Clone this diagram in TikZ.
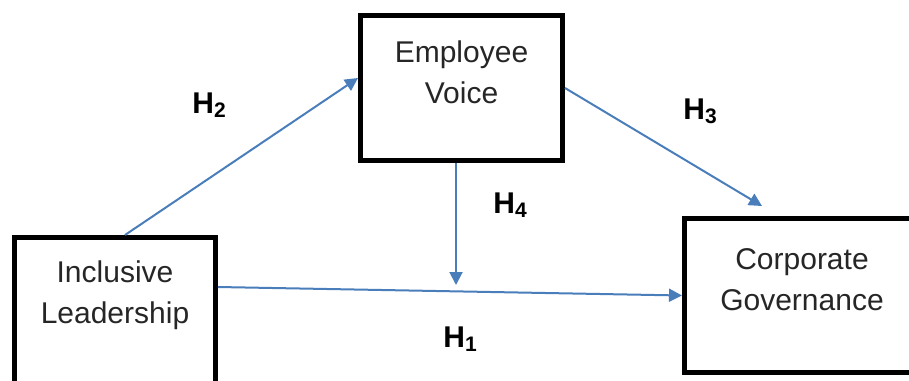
\documentclass[tikz,border=0pt]{standalone}
\usepackage{fontspec}
\setmainfont{Liberation Sans}
\usetikzlibrary{arrows.meta,positioning}
\definecolor{linkblue}{HTML}{4A7EBB}

\begin{document}
\begin{tikzpicture}[x=0.5pt,y=-0.5pt,
    box/.style={draw,line width=2.5pt,inner sep=0pt},
    boxtext/.style={align=center,font=\fontsize{15}{20.5}\selectfont,text=black!85},
    link/.style={draw=linkblue,line width=1pt,-{Triangle[length=6.5pt,width=6.5pt]},linkblue},
    hyp/.style={font=\fontsize{15}{18}\bfseries,anchor=base west,inner sep=0pt}]
  \useasboundingbox (0,0) rectangle (909,380);
  \clip (0,0) rectangle (909,380);
  \node[box,minimum width=100.5pt,minimum height=76pt] (il) at (115,313.5) {};
  \node[box,minimum width=101pt,minimum height=72.5pt] (ev) at (461.5,88) {};
  \node[box,minimum width=117.5pt,minimum height=77pt] (cg) at (802,295.5) {};
  \node[boxtext] (ilt) at ([yshift=9pt]il.center) {Inclusive\\Leadership};
  \node[boxtext] (evt) at ([yshift=8pt]ev.center) {Employee\\Voice};
  \node[boxtext] (cgt) at ([yshift=8pt]cg.center) {Corporate\\Governance};
  \coordinate (h4end) at (456,285);
  \draw[link] ([xshift=5pt]il.north) -- ([yshift=5pt]ev.west);
  \draw[link] (ev.east) -- ([xshift=-20pt,yshift=5pt]cg.north);
  \draw[link] ([xshift=-2.75pt]ev.south) -- (h4end);
  \draw[link] ([yshift=13.25pt]il.east) -- (cg.west);
  \node[hyp] (h2) at (192,113) {H\textsubscript{2}};
  \node[hyp] (h3) at (683,119) {H\textsubscript{3}};
  \node[hyp] (h4) at (493,213) {H\textsubscript{4}};
  \node[hyp] (h1) at (443,347) {H\textsubscript{1}};
\end{tikzpicture}
\end{document}
